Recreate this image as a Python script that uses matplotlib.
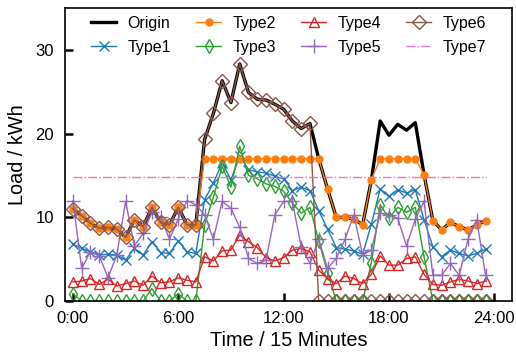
import matplotlib
matplotlib.use('Agg')
import matplotlib.pyplot as plt

plt.rcParams['font.family'] = ['Liberation Sans', 'DejaVu Sans']

# 48 half-hour samples, x axis labelled in hours
origin = [11.0, 10.2, 9.3, 8.7, 8.8, 8.6, 7.6, 9.7, 8.9, 11.2, 9.4, 9.1,
          11.2, 9.1, 9.1, 19.3, 22.4, 26.3, 23.7, 28.3, 24.9, 24.1, 24.0, 23.5,
          22.9, 21.5, 20.6, 21.2, 17.0, 13.4, 10.0, 10.0, 9.8, 9.1, 14.5, 21.5,
          19.8, 21.1, 20.4, 21.3, 15.1, 9.6, 8.5, 9.4, 8.9, 8.5, 9.1, 9.6]
type1 = [6.8, 6.3, 5.9, 5.5, 5.6, 5.5, 4.9, 6.3, 5.5, 7.1, 5.8, 5.7,
         7.2, 5.9, 5.7, 12.1, 14.1, 16.5, 14.5, 17.3, 15.7, 15.4, 15.3, 14.9,
         14.6, 13.2, 13.6, 13.2, 10.8, 8.6, 6.4, 6.2, 6.0, 5.6, 9.2, 13.4,
         12.5, 13.3, 12.9, 13.3, 9.7, 6.5, 5.3, 6.1, 5.7, 5.4, 5.7, 6.2]
type2 = [11.0, 10.2, 9.3, 8.7, 8.8, 8.6, 7.6, 9.7, 8.9, 11.2, 9.4, 9.1,
         11.2, 9.1, 9.1, 17.0, 17.0, 17.0, 17.0, 17.0, 17.0, 17.0, 17.0, 17.0,
         17.0, 17.0, 17.0, 17.0, 17.0, 13.4, 10.0, 10.0, 9.8, 9.1, 14.5, 17.0,
         17.0, 17.0, 17.0, 17.0, 15.1, 9.6, 8.5, 9.4, 8.9, 8.5, 9.1, 9.6]
type3 = [0.9, 0, 0, 0, 0, 0, 0, 0, 0, 1.5, 0, 0,
         0.9, 0, 0, 9.1, 12.4, 16.1, 13.6, 18.5, 15.0, 14.6, 14.0, 13.7,
         13.1, 11.7, 10.5, 11.2, 7.2, 3.4, 0, 0, 0, 0, 4.6, 11.5,
         9.9, 11.2, 10.6, 11.2, 5.3, 0, 0, 0, 0, 0, 0, 0]
type4 = [2.3, 2.4, 2.7, 2.0, 2.6, 1.8, 2.1, 2.4, 1.9, 3.0, 2.2, 2.3,
         2.8, 2.5, 2.3, 5.3, 4.8, 6.0, 6.1, 7.9, 7.1, 6.4, 5.2, 4.8,
         5.2, 6.1, 6.3, 5.9, 3.7, 2.7, 2.1, 3.0, 2.7, 2.1, 3.2, 5.4,
         4.3, 4.3, 5.1, 5.3, 3.2, 2.0, 1.9, 2.3, 2.6, 2.4, 2.1, 2.4]
type5 = [12.0, 3.9, 5.9, 5.4, 2.8, 5.5, 11.9, 6.6, 8.1, 10.6, 10.0, 7.4,
         9.8, 12.0, 11.5, 10.3, 7.4, 11.9, 11.1, 8.8, 5.1, 4.5, 4.9, 10.3,
         11.9, 11.9, 6.5, 4.5, 7.4, 3.9, 5.1, 7.4, 10.3, 5.5, 6.1, 10.5,
         10.3, 9.9, 6.6, 9.8, 11.9, 3.1, 3.1, 4.5, 3.1, 7.4, 9.7, 3.1]
type6 = [11.0, 10.2, 9.3, 8.7, 8.8, 8.6, 7.6, 9.7, 8.9, 11.2, 9.4, 9.1,
         11.2, 9.1, 9.1, 19.3, 22.4, 26.3, 23.7, 28.3, 24.9, 24.1, 24.0, 23.5,
         22.9, 21.5, 20.6, 21.2, 0, 0, 0, 0, 0, 0, 0, 0,
         0, 0, 0, 0, 0, 0, 0, 0, 0, 0, 0, 0]
type7 = 14.8

x = list(range(len(origin)))
tick_pos = [0, 12, 24, 36, 48]
tick_labels = ['0:00', '6:00', '12:00', '18:00', '24:00']

fig = plt.figure(figsize=(5.16, 3.56), dpi=100)
ax = fig.add_axes([0.126, 0.154, 0.866, 0.824])

ax.plot(x, origin, color='black', linewidth=2.4, label='Origin')
ax.plot(x, type1, color='#1f77b4', marker='x', markersize=7, linewidth=1,
        label='Type1')
ax.plot(x, type2, color='#ff7f0e', marker='o', markersize=5, linewidth=1,
        label='Type2')
ax.plot(x, type3, color='#2ca02c', marker='d', markersize=7, linewidth=1,
        markerfacecolor='none', label='Type3')
ax.plot(x, type4, color='#d62728', marker='^', markersize=7, linewidth=1,
        markerfacecolor='none', label='Type4')
ax.plot(x, type5, color='#9467bd', marker='+', markersize=10, linewidth=1,
        label='Type5')
ax.plot(x, type6, color='#8c564b', marker='D', markersize=7, linewidth=1,
        markerfacecolor='none', label='Type6')
ax.plot([x[0], x[-1]], [type7, type7], color='#e377c2', linestyle='-.',
        linewidth=1, label='Type7')

ax.set_xlim(-0.9, 50)
ax.set_ylim(0, 35)
ax.set_xticks(tick_pos)
ax.set_xticklabels(tick_labels)
ax.set_yticks([0, 10, 20, 30])
ax.tick_params(direction='in', length=6, width=1.8, labelsize=12)
ax.tick_params(axis='y', pad=8)
ax.tick_params(axis='x', pad=7)
for s in ax.spines.values():
    s.set_linewidth(1.2)

ax.set_xlabel('Time / 15 Minutes', fontsize=14.3, labelpad=4)
ax.set_ylabel('Load / kWh', fontsize=14.3, labelpad=6)

ax.legend(ncol=4, loc='upper center', frameon=False, fontsize=11.5,
          handlelength=1.6, columnspacing=1.55, labelspacing=0.55,
          handletextpad=0.7, borderaxespad=0.1)

plt.savefig('out.png', dpi=100)
